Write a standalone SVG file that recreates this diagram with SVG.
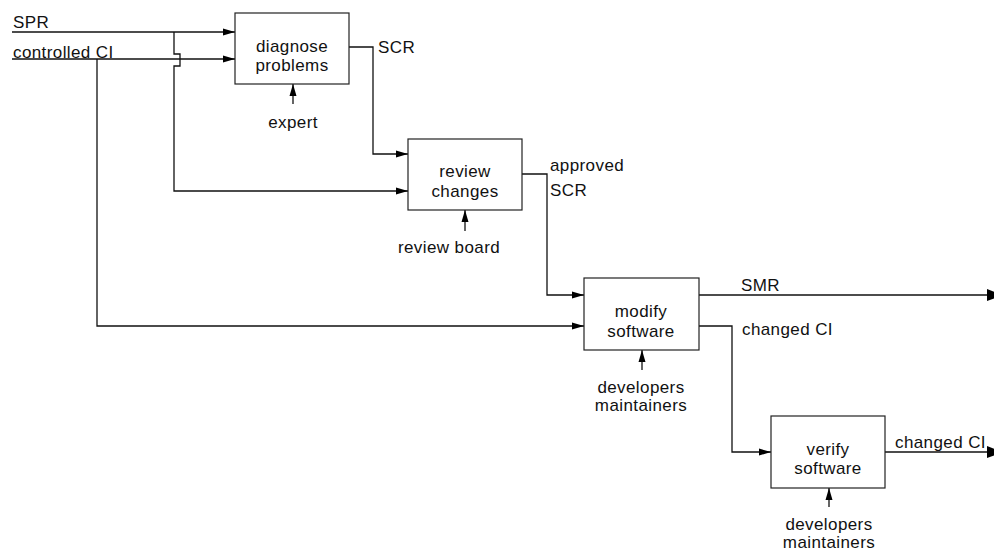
<svg xmlns="http://www.w3.org/2000/svg" width="994" height="553" viewBox="0 0 994 553">
<defs>
<marker id="ah" markerWidth="12" markerHeight="8" refX="12" refY="4" orient="auto" markerUnits="userSpaceOnUse">
<path d="M0,0.5 L12,4 L0,7.5 z" fill="#000"/>
</marker>
<marker id="av" markerWidth="12" markerHeight="8" refX="12" refY="4" orient="auto" markerUnits="userSpaceOnUse">
<path d="M0,0.5 L12,4 L0,7.5 z" fill="#000"/>
</marker>
<marker id="ae" markerWidth="16" markerHeight="14" refX="16" refY="7" orient="auto" markerUnits="userSpaceOnUse">
<path d="M0,1 L16,7 L0,13 z" fill="#000"/>
</marker>
</defs>
<style>
.box{fill:#fff;stroke:#222;stroke-width:1.2}
.t{font-family:"Liberation Sans",Arial,sans-serif;font-size:17px;fill:#111;letter-spacing:0.4px}
.c{text-anchor:middle}
.ln{fill:none;stroke:#111;stroke-width:1.3}
</style>
<rect width="994" height="553" fill="#fff"/>
<g id="connectors">
<path class="ln" d="M12,32 H235" marker-end="url(#ah)"/>
<path class="ln" d="M12,59 H235" marker-end="url(#ah)"/>
<path class="ln" d="M174,32 V54 H180 V66 H174 V191 H408" marker-end="url(#ah)"/>
<path class="ln" d="M97,59 V326 H584" marker-end="url(#ah)"/>
<path class="ln" d="M349,47 H373 V154 H408" marker-end="url(#ah)"/>
<path class="ln" d="M293,104 V84" marker-end="url(#av)"/>
<path class="ln" d="M522,174 H547 V295 H584" marker-end="url(#ah)"/>
<path class="ln" d="M465,231 V210" marker-end="url(#av)"/>
<path class="ln" d="M699,295 H1003" marker-end="url(#ae)"/>
<path class="ln" d="M699,326 H732 V452 H771" marker-end="url(#ah)"/>
<path class="ln" d="M642,370 V350" marker-end="url(#av)"/>
<path class="ln" d="M885,452 H1003" marker-end="url(#ae)"/>
<path class="ln" d="M829,507 V488" marker-end="url(#av)"/>
</g>
<g id="labels">
<text class="t" x="13" y="28">SPR</text>
<text class="t" x="13" y="58">controlled CI</text>
<text class="t" x="378" y="53">SCR</text>
<text class="t c" x="293" y="128">expert</text>
<text class="t" x="550" y="171">approved</text>
<text class="t" x="550" y="196">SCR</text>
<text class="t c" x="449" y="253">review board</text>
<text class="t" x="741" y="291">SMR</text>
<text class="t" x="742" y="335">changed CI</text>
<text class="t c" x="641" y="393">developers</text>
<text class="t c" x="641" y="411">maintainers</text>
<text class="t" x="895" y="448">changed CI</text>
<text class="t c" x="829" y="530">developers</text>
<text class="t c" x="829" y="548">maintainers</text>
</g>
<g id="diagnose">
<rect class="box" x="235" y="13" width="114" height="71"/>
<text class="t c" x="292" y="52">diagnose</text>
<text class="t c" x="292" y="71">problems</text>
</g>
<g id="review">
<rect class="box" x="408" y="139" width="114" height="71"/>
<text class="t c" x="465" y="177">review</text>
<text class="t c" x="465" y="197">changes</text>
</g>
<g id="modify">
<rect class="box" x="584" y="278" width="115" height="72"/>
<text class="t c" x="641" y="317">modify</text>
<text class="t c" x="641" y="337">software</text>
</g>
<g id="verify">
<rect class="box" x="771" y="416" width="114" height="72"/>
<text class="t c" x="828" y="455">verify</text>
<text class="t c" x="828" y="474">software</text>
</g>
</svg>
